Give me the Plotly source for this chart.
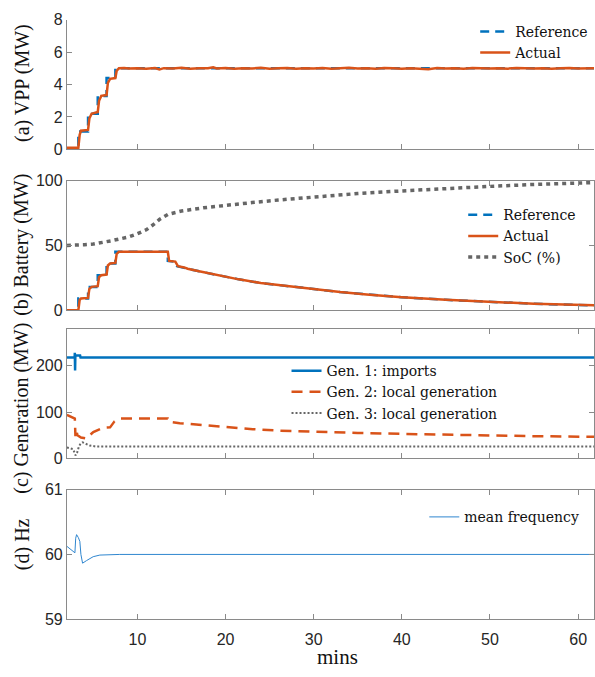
import plotly.graph_objects as go

# ---------------- data ----------------
# (a) VPP power (MW)
vpp_ref_t = [2.0, 3.3, 4.4, 5.5, 6.5, 7.5, 62.0]
vpp_ref_v = [0.0, 1.1, 2.2, 3.3, 4.4, 5.0, 5.0]
vpp_act_t = [2.0, 3.3, 3.45, 3.6, 4.4, 4.55, 4.8, 5.5, 5.65, 5.9, 6.5, 6.65, 6.9, 7.5, 7.65, 7.9,
             8.5, 9, 10, 11, 12, 12.5, 13, 14, 15, 16, 17, 18, 18.6, 19, 20, 21, 22, 23, 24, 25,
             26, 27, 28, 29, 30, 31, 32, 33, 34, 35, 36, 37, 38, 39, 40, 41, 42, 43, 44, 45,
             46, 47, 48, 49, 50, 51, 52, 53, 54, 55, 56, 57, 58, 59, 60, 61, 62]
vpp_act_v = [0.1, 0.1, 0.9, 1.15, 1.2, 1.9, 2.2, 2.3, 3.0, 3.3, 3.35, 4.1, 4.35, 4.4, 4.85, 5.0,
             5.02, 4.99, 5.01, 4.98, 5.02, 4.93, 5.01, 4.99, 5.03, 4.98, 5.01, 5.0, 5.06, 4.99, 5.02, 4.98,
             5.01, 4.99, 5.03, 4.98, 5.0, 5.02, 4.98, 5.01, 4.99, 5.02, 4.98, 5.0, 5.03, 4.99, 5.01, 4.98,
             5.02, 5.0, 4.98, 5.01, 5.0, 4.95, 5.02, 4.99, 5.01, 4.98, 5.02, 5.0, 4.99, 5.01, 4.98, 5.02,
             5.0, 4.99, 5.01, 4.98, 5.0, 5.02, 4.99, 5.01, 5.0]

# (b) Battery power (MW) and state of charge (%)
bat_ref_t = [2.0, 3.3, 3.3, 4.4, 4.4, 5.5, 5.5, 6.5, 6.5, 7.5, 7.5, 13.45, 13.45, 14.3, 14.5, 15.3,
             15.7, 17.0, 19.0, 21.5, 24.0, 27.0, 30.0, 33.0, 36.0, 40.0, 45.0, 50.0, 55.0, 62.0]
bat_ref_v = [0.0, 0.0, 9.0, 9.0, 18.0, 18.0, 27.0, 27.0, 36.0, 36.0, 45.0, 45.0, 38.0, 37.5, 34.0,
             33.0, 32.0, 30.0, 27.0, 23.8, 21.0, 18.5, 16.0, 14.0, 12.2, 10.0, 8.0, 6.3, 5.0, 3.7]
bat_act_t = [2.0, 3.3, 3.45, 3.6, 4.4, 4.55, 4.8, 5.5, 5.65, 5.9, 6.5, 6.65, 6.9, 7.5, 7.65, 7.9,
             13.45, 13.6, 14.3, 14.6, 15.3, 15.7, 17.0, 19.0, 21.5, 24.0, 27.0, 30.0, 33.0, 36.0,
             40.0, 45.0, 50.0, 55.0, 62.0]
bat_act_v = [0.0, 0.0, 8.0, 9.0, 9.5, 16.5, 18.0, 18.5, 25.5, 27.0, 27.5, 34.5, 36.0, 36.5, 43.5, 45.0,
             45.0, 38.0, 37.5, 34.0, 33.0, 32.0, 30.0, 27.0, 23.8, 21.0, 18.5, 16.0, 14.0, 12.2,
             10.0, 8.0, 6.3, 5.0, 3.7]
soc_t = [2, 3, 4, 5, 6, 7, 8, 9, 10, 11, 12, 12.5, 13.5, 15, 17.5, 20, 23, 26, 30, 35, 40, 45, 50, 55, 62]
soc_v = [50.0, 50.0, 50.5, 51.0, 52.0, 53.5, 55.0, 56.5, 59.0, 62.0, 67.0, 70.0, 74.0, 76.5, 79.0,
         81.0, 83.0, 85.0, 87.5, 90.0, 92.0, 94.0, 95.5, 97.0, 98.5]

# (c) Generation (MW)
gen1_t = [2.0, 2.88, 2.9, 2.93, 2.96, 3.5, 3.55, 62.0]
gen1_v = [218, 218, 228, 190, 222, 222, 218, 218]
gen2_t = [2.0, 2.9, 2.97, 3.05, 3.2, 3.6, 4.2, 5.0, 6.1, 6.9, 7.4, 8.0, 13.45, 13.6, 14.8, 17.5,
          20.1, 23.1, 26.0, 30.0, 35.0, 40.0, 45.0, 50.0, 55.0, 62.0]
gen2_v = [94, 86, 48, 62, 50, 45, 43, 57, 66, 67, 80, 86, 86, 79, 76, 71.6, 67.4, 63, 60, 57.5,
          55, 53, 51, 49.5, 48, 46.5]
gen3_t = [2.0, 2.72, 2.98, 3.17, 3.36, 3.55, 3.78, 4.23, 4.6, 5.36, 62.0]
gen3_v = [23.4, 19.8, 6.4, 12.8, 25.5, 31.9, 34.8, 30.5, 27.7, 25.5, 25.5]

# (d) Mean frequency (Hz)
freq_t = [2.0, 2.91, 3.0, 3.1, 3.3, 3.47, 3.59, 3.78, 4.23, 4.98, 5.74, 6.87, 8.0, 62.0]
freq_v = [60.125, 60.025, 60.25, 60.305, 60.26, 60.2, 60.0, 59.865, 59.905, 59.965, 59.99, 59.998, 60.0, 60.0]

x_ticks = [10, 20, 30, 40, 50, 60]

# ---------------- style ----------------
BLUE = "#0072BD"
ORANGE = "#D95319"
GRAY = "#666666"
AX = "#8a8a8a"
W, H = 595, 677
SERIF = "Liberation Serif"
LEGSERIF = "DejaVu Serif"
SANS = "Liberation Sans"

fig = go.Figure()

def add(x, y, name, ax, leg, color, width, dash="solid", shape="linear"):
    fig.add_trace(go.Scatter(x=x, y=y, name=name, mode="lines", xaxis="x" + ax, yaxis="y" + ax,
                             legend=leg, line=dict(color=color, width=width, dash=dash, shape=shape)))

add(vpp_ref_t, vpp_ref_v, "Reference", "", "legend", BLUE, 2.5, "9px,6px", "hv")
add(vpp_act_t, vpp_act_v, "Actual", "", "legend", ORANGE, 2.5)
add(bat_ref_t, bat_ref_v, "Reference", "2", "legend2", BLUE, 2.5, "9px,6px")
add(bat_act_t, bat_act_v, "Actual", "2", "legend2", ORANGE, 2.5)
add(soc_t, soc_v, "SoC (%)", "2", "legend2", GRAY, 3.5, "4px,4px")
add(gen1_t, gen1_v, "Gen. 1: imports", "3", "legend3", BLUE, 2.5)
add(gen2_t, gen2_v, "Gen. 2: local generation", "3", "legend3", ORANGE, 2.5, "11px,7px")
add(gen3_t, gen3_v, "Gen. 3: local generation", "3", "legend3", GRAY, 2, "2px,2px")
add(freq_t, freq_v, "mean frequency", "4", "legend4", "#2f86cf", 1)

def py(px):
    return 1 - px / H

panels = [  # (top px, bottom px)
    (12, 145), (177, 310), (329, 462), (494, 627)
]
yranges = [[0, 8], [0, 100], [0, 280], [59, 61]]
yticks = [[0, 2, 4, 6, 8], [0, 50, 100], [0, 100, 200], [59, 60, 61]]

lay = {}
for i, ((top, bot), yr, yt) in enumerate(zip(panels, yranges, yticks)):
    s = "" if i == 0 else str(i + 1)
    mirror = False if i == 0 else "ticks"
    lay["xaxis" + s] = dict(domain=[67 / W, 1], range=[2, 61.8], anchor="y" + s,
                            tickvals=x_ticks, showticklabels=(i == 3), ticklabelstandoff=6,
                            ticks="inside", ticklen=5, tickcolor=AX, showline=True, linecolor=AX,
                            linewidth=1, mirror=mirror, showgrid=False, zeroline=False,
                            tickfont=dict(family=SANS, size=16, color="#262626"))
    lay["yaxis" + s] = dict(domain=[py(bot), py(top)], range=yr, anchor="x" + s, tickvals=yt,
                            ticks="inside", ticklen=5, tickcolor=AX, showline=True, linecolor=AX,
                            linewidth=1, mirror=mirror, showgrid=False, zeroline=False,
                            tickfont=dict(family=SANS, size=16, color="#262626"))

legfont = dict(family=LEGSERIF, size=14, color="#111111")
def leg(xpx, ypx):
    return dict(x=xpx / W, y=py(ypx), xanchor="left", yanchor="top", bgcolor="rgba(0,0,0,0)",
                borderwidth=0, font=legfont, tracegroupgap=0)

lay["legend"] = leg(476, 8)
lay["legend2"] = leg(464, 196)
lay["legend3"] = leg(287, 356)
lay["legend4"] = leg(425, 506)

titles = ["(a) VPP (MW)", "(b) Battery (MW)", "(c) Generation (MW)", "(d) Hz"]
title_y = [77, 243, 410, 550]
ann = []
for t, yc in zip(titles, title_y):
    ann.append(dict(text=t, x=22 / W, y=py(yc), xref="paper", yref="paper", showarrow=False,
                    textangle=-90, xanchor="center", yanchor="middle",
                    font=dict(family=SERIF, size=20, color="#111111")))
ann.append(dict(text="mins", x=338 / W, y=py(666), xref="paper", yref="paper", showarrow=False,
                xanchor="center", yanchor="middle", font=dict(family=SERIF, size=21, color="#111111")))

fig.update_layout(width=W, height=H, margin=dict(l=0, r=0, t=0, b=0),
                  paper_bgcolor="white", plot_bgcolor="white", showlegend=True,
                  annotations=ann, **lay)

fig.write_html("out.html", config={"displayModeBar": False},
               post_script="document.body.style.margin='0';")
